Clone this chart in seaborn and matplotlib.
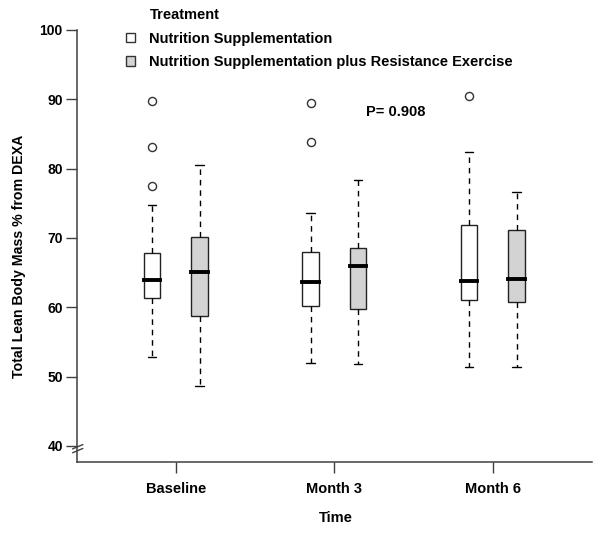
import numpy as np
import pandas as pd
import matplotlib
matplotlib.use("Agg")
import matplotlib.pyplot as plt
from matplotlib.patches import Patch
import seaborn as sns

# ---- data ----
times = ["Baseline", "Month 3", "Month 6"]
treatments = ["Nutrition Supplementation",
              "Nutrition Supplementation plus Resistance Exercise"]

# Nutrition Supplementation: five-number summaries per time point
ns_whislo = [52.8, 51.9, 51.4]
ns_q1 = [61.4, 60.2, 61.0]
ns_med = [64.0, 63.7, 63.8]
ns_q3 = [67.8, 68.0, 71.8]
ns_whishi = [74.7, 73.6, 82.4]
ns_outliers = [[77.5, 83.1, 89.8], [83.9, 89.5], [90.5]]

# Nutrition Supplementation plus Resistance Exercise
re_whislo = [48.6, 51.8, 51.4]
re_q1 = [58.8, 59.7, 60.7]
re_med = [65.1, 65.9, 64.1]
re_q3 = [70.2, 68.5, 71.2]
re_whishi = [80.5, 78.4, 76.6]
re_outliers = [[], [], []]

p_text = "P= 0.908"
yticks = [40, 50, 60, 70, 80, 90, 100]

# ---- build long table for seaborn ----
rows = []
summ = {
    treatments[0]: (ns_whislo, ns_q1, ns_med, ns_q3, ns_whishi),
    treatments[1]: (re_whislo, re_q1, re_med, re_q3, re_whishi),
}
for trt, arrs in summ.items():
    for i, t in enumerate(times):
        for arr in arrs:
            rows.append({"Time": t, "Treatment": trt, "value": arr[i]})
df = pd.DataFrame(rows)

out_rows = []
for j, (trt, outs) in enumerate(zip(treatments, [ns_outliers, re_outliers])):
    for i, t in enumerate(times):
        for v in outs[i]:
            out_rows.append({"pos": i + (j - 0.5) * 0.3, "value": v})
df_out = pd.DataFrame(out_rows)

sns.set_style("ticks")
plt.rcParams["font.family"] = ["Liberation Sans", "DejaVu Sans"]
plt.rcParams["font.weight"] = "bold"
plt.rcParams["text.color"] = "black"
plt.rcParams["axes.labelcolor"] = "black"
plt.rcParams["xtick.labelcolor"] = "black"
plt.rcParams["ytick.labelcolor"] = "black"

fig = plt.figure(figsize=(6.0, 5.34), dpi=100)
ax = fig.add_axes([0.1278, 0.1343, 0.8588, 0.8096])

line_col = "#222222"
sns.boxplot(data=df, x="Time", y="value", hue="Treatment",
            order=times, hue_order=treatments,
            palette=["white", "#d3d3d3"], saturation=1,
            width=0.6, gap=0.65, dodge=True, whis=1.5,
            linecolor=line_col, linewidth=1.0, showfliers=False,
            legend=False, ax=ax,
            whiskerprops=dict(linestyle=(0, (4, 3.5)), color="black"),
            medianprops=dict(color="black", linewidth=2.8,
                             solid_capstyle="projecting"),
            capprops=dict(color="black"))

sns.scatterplot(data=df_out, x="pos", y="value", ax=ax, marker="o",
                s=34, facecolor="white", edgecolor="#333333",
                linewidth=1.0, zorder=5, legend=False)

ax.set_xlim(-0.625, 2.625)
ax.set_ylim(37.64, 100)
ax.set_yticks(yticks)
ax.set_xticks(range(len(times)))
ax.set_xticklabels(times)

for s in ["top", "right"]:
    ax.spines[s].set_visible(False)
for s in ["left", "bottom"]:
    ax.spines[s].set_color("#404040")
    ax.spines[s].set_linewidth(1.1)

ax.tick_params(axis="y", length=8, width=1, color="#404040", pad=2,
               labelsize=10, labelcolor="black")
ax.tick_params(axis="x", length=8, width=1, color="#404040", pad=6,
               labelsize=10.5, labelcolor="black")
for lab in ax.get_xticklabels() + ax.get_yticklabels():
    lab.set_fontweight("bold")

ax.set_xlabel("Time", fontsize=10.5, fontweight="bold", color="black")
ax.xaxis.set_label_coords(0.503, -0.112)
ax.set_ylabel("Total Lean Body Mass % from DEXA", fontsize=10.2,
              fontweight="bold", color="black")
ax.yaxis.set_label_coords(-0.098, 0.476)

# axis break mark near the bottom of the y axis
for dy in (0.0, 0.009):
    ax.plot([-0.008, 0.012], [0.022 + dy, 0.032 + dy],
            transform=ax.transAxes, color="#404040", lw=1.0, clip_on=False)

ax.text(1.389, 88.2, p_text, ha="center", va="center",
        fontsize=10.5, fontweight="bold", color="black")

# legend
fig.text(150 / 600, 1 - 14.7 / 534, "Treatment", ha="left", va="center",
         fontsize=10.5, fontweight="bold", color="black")
handles = [Patch(facecolor=c, edgecolor="#333333", linewidth=1.0)
           for c in ["white", "#d3d3d3"]]
leg = fig.legend(handles, treatments, loc="upper left",
                 bbox_to_anchor=(126 / 600, 1 - 32 / 534), frameon=False,
                 borderpad=0, borderaxespad=0, handlelength=0.6,
                 handleheight=0.6, handletextpad=1.0, labelspacing=0.63,
                 prop={"size": 10.5, "weight": "bold"})
for t in leg.get_texts():
    t.set_color("black")

fig.savefig("out.png", dpi=100)
